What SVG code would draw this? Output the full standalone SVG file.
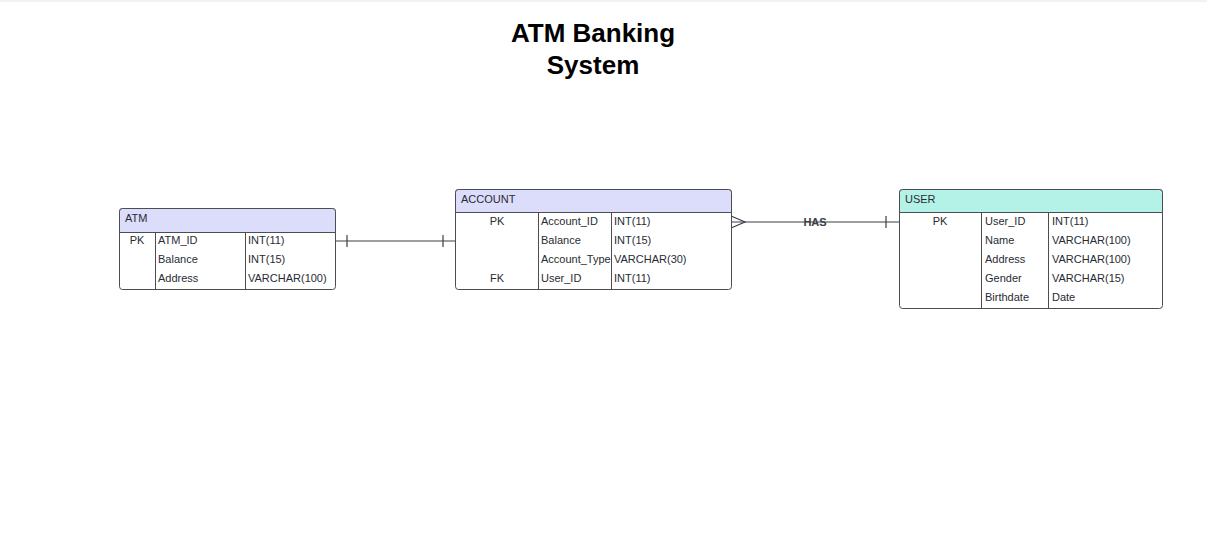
<svg xmlns="http://www.w3.org/2000/svg" width="1207" height="557" viewBox="0 0 1207 557">
<style>
.box{fill:#ffffff;stroke:#4a4d52;stroke-width:1}
.hdr{stroke:#4a4d52;stroke-width:1}
.div{stroke:#4a4d52;stroke-width:1}
.t{font-family:"Liberation Sans",Arial,sans-serif;font-size:11px;fill:#282c33}
.c{text-anchor:middle}
.ln{stroke:#3a3e45;stroke-width:1.2;fill:none}
.title{font-family:"Liberation Sans",Arial,sans-serif;font-size:26px;font-weight:bold;fill:#000;text-anchor:middle}
</style>
<rect x="0" y="0" width="1207" height="557" fill="#ffffff"/>
<rect x="0" y="0" width="1207" height="2" fill="#f2f2f2"/>
<g id="title">
<text class="title" x="593" y="42">ATM Banking</text>
<text class="title" x="593" y="74">System</text>
</g>
<g id="connectors">
<line class="ln" x1="335" y1="241" x2="455" y2="241"/>
<line class="ln" x1="347" y1="235" x2="347" y2="247"/>
<line class="ln" x1="443" y1="235" x2="443" y2="247"/>
<line class="ln" x1="731" y1="222" x2="899" y2="222"/>
<polyline class="ln" points="731,216 745,222 731,228"/>
<line class="ln" x1="886" y1="216" x2="886" y2="228"/>
<text x="815" y="226" font-family="'Liberation Sans',Arial,sans-serif" font-size="11" font-weight="bold" fill="#3a3e45" text-anchor="middle">HAS</text>
</g>
<g id="atm">
<rect class="box" x="119.5" y="208.5" width="216" height="81" rx="3"/>
<path class="hdr" d="M119.5,232.5 V211.5 a3,3 0 0 1 3,-3 H332.5 a3,3 0 0 1 3,3 V232.5 Z" fill="#dcdcfb"/>
<line class="div" x1="155.5" y1="232.5" x2="155.5" y2="289.5"/>
<line class="div" x1="245.5" y1="232.5" x2="245.5" y2="289.5"/>
<text class="t" x="125" y="222">ATM</text>
<text class="t c" x="137" y="244">PK</text>
<text class="t" x="158" y="244">ATM_ID</text>
<text class="t" x="248" y="244">INT(11)</text>
<text class="t" x="158" y="263">Balance</text>
<text class="t" x="248" y="263">INT(15)</text>
<text class="t" x="158" y="282">Address</text>
<text class="t" x="248" y="282">VARCHAR(100)</text>
</g>
<g id="account">
<rect class="box" x="455.5" y="189.5" width="276" height="100" rx="3"/>
<path class="hdr" d="M455.5,212.5 V192.5 a3,3 0 0 1 3,-3 H728.5 a3,3 0 0 1 3,3 V212.5 Z" fill="#dcdcfb"/>
<line class="div" x1="538.5" y1="212.5" x2="538.5" y2="289.5"/>
<line class="div" x1="611.5" y1="212.5" x2="611.5" y2="289.5"/>
<text class="t" x="461" y="203">ACCOUNT</text>
<text class="t c" x="497" y="225">PK</text>
<text class="t" x="541" y="225">Account_ID</text>
<text class="t" x="614" y="225">INT(11)</text>
<text class="t" x="541" y="244">Balance</text>
<text class="t" x="614" y="244">INT(15)</text>
<text class="t" x="541" y="263">Account_Type</text>
<text class="t" x="614" y="263">VARCHAR(30)</text>
<text class="t c" x="497" y="282">FK</text>
<text class="t" x="541" y="282">User_ID</text>
<text class="t" x="614" y="282">INT(11)</text>
</g>
<g id="user">
<rect class="box" x="899.5" y="189.5" width="263" height="119" rx="3"/>
<path class="hdr" d="M899.5,212.5 V192.5 a3,3 0 0 1 3,-3 H1159.5 a3,3 0 0 1 3,3 V212.5 Z" fill="#b4f2e7"/>
<line class="div" x1="981.5" y1="212.5" x2="981.5" y2="308.5"/>
<line class="div" x1="1048.5" y1="212.5" x2="1048.5" y2="308.5"/>
<text class="t" x="905" y="203">USER</text>
<text class="t c" x="940" y="225">PK</text>
<text class="t" x="985" y="225">User_ID</text>
<text class="t" x="1052" y="225">INT(11)</text>
<text class="t" x="985" y="244">Name</text>
<text class="t" x="1052" y="244">VARCHAR(100)</text>
<text class="t" x="985" y="263">Address</text>
<text class="t" x="1052" y="263">VARCHAR(100)</text>
<text class="t" x="985" y="282">Gender</text>
<text class="t" x="1052" y="282">VARCHAR(15)</text>
<text class="t" x="985" y="301">Birthdate</text>
<text class="t" x="1052" y="301">Date</text>
</g>
</svg>
